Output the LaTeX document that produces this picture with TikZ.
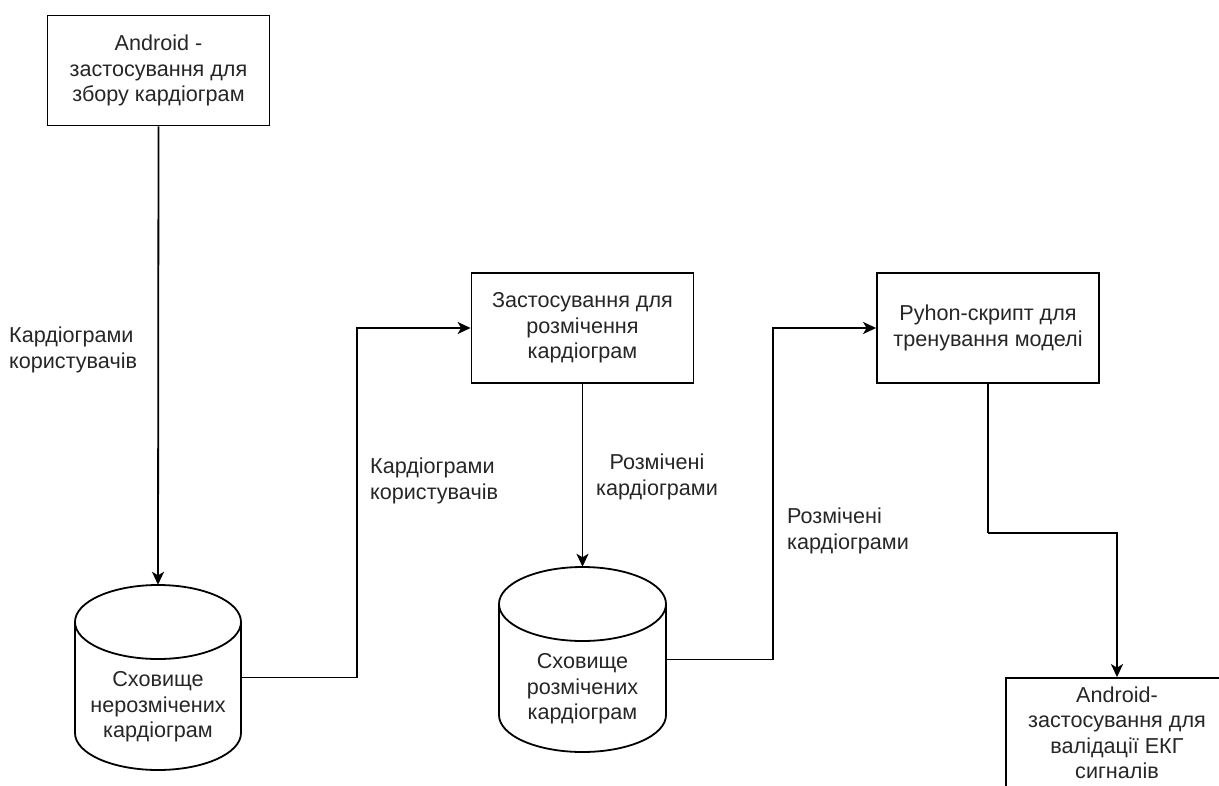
\documentclass[tikz,border=0pt]{standalone}
\usepackage{fontspec}
\setmainfont{Liberation Sans}
\usetikzlibrary{arrows.meta}
\begin{document}
\begin{tikzpicture}[x=1pt,y=-1pt,
  every node/.style={font=\fontsize{21.6}{25.5}\selectfont, text=black!85},
  box/.style={draw, line width=1.8pt, minimum width=222pt, minimum height=110pt, inner sep=0pt, align=center},
  ghost/.style={inner sep=0pt, minimum width=166pt, minimum height=185pt},
  cyl/.style={line width=1.8pt},
  lbl/.style={align=left, anchor=west, inner sep=0pt},
  arr/.style={line width=1.8pt, -{Stealth[length=13pt,width=12pt,inset=3.5pt]}},
  con/.style={line width=1.8pt}]
\clip (0,0) rectangle (1219,785);
\fill[white] (0,0) rectangle (1219,785);

% boxes
\node[box] (b1) at (158.5,70.5) {Android -\\застосування для\\збору кардіограм};
\node[box] (b2) at (582.5,328) {Застосування для\\розмічення\\кардіограм};
\node[box] (b3) at (988,328) {Pyhon-скрипт для\\тренування моделі};
\node[box] (b4) at (1117,733) {Android-\\застосування для\\валідації ЕКГ\\сигналів};

% cylinder 1
\draw[cyl] (158,622) ellipse [x radius=83, y radius=37];
\draw[cyl] (75,622) -- (75,733) arc[start angle=180, end angle=0, x radius=83, y radius=37] -- (241,622);
\node[ghost] (c1) at (158,677.5) {};
\node[align=center, inner sep=0pt] (c1t) at (158,707) {Сховище\\нерозмічених\\кардіограм};

% cylinder 2
\draw[cyl] (582.5,604) ellipse [x radius=83.5, y radius=37];
\draw[cyl] (499,604) -- (499,715) arc[start angle=180, end angle=0, x radius=83.5, y radius=37] -- (666,604);
\node[ghost, minimum width=167pt] (c2) at (582.5,659.5) {};
\node[align=center, inner sep=0pt] (c2t) at (582.5,689) {Сховище\\розмічених\\кардіограм};

% connectors
\draw[arr] (b1.south) -- (c1.north);
\draw[con] (c1.east) -- ++(116,0) coordinate (t1);
\draw[arr] (t1) |- (b2.west);
\draw[arr] (b2.south) -- (c2.north);
\draw[con] (c2.east) -- ++(107,0) coordinate (t2);
\draw[arr] (t2) |- (b3.west);
\draw[con] (b3.south) -- ++(0,149) coordinate (t3);
\draw[arr] (t3) -| (b4.north);

% labels
\node[lbl] (l1) at (9,350) {Кардіограми\\користувачів};
\node[lbl] (l2) at (370,481) {Кардіограми\\користувачів};
\node[align=center, inner sep=0pt] (l3) at (657,477) {Розмічені\\кардіограми};
\node[lbl] (l4) at (787,531) {Розмічені\\кардіограми};
\end{tikzpicture}
\end{document}
